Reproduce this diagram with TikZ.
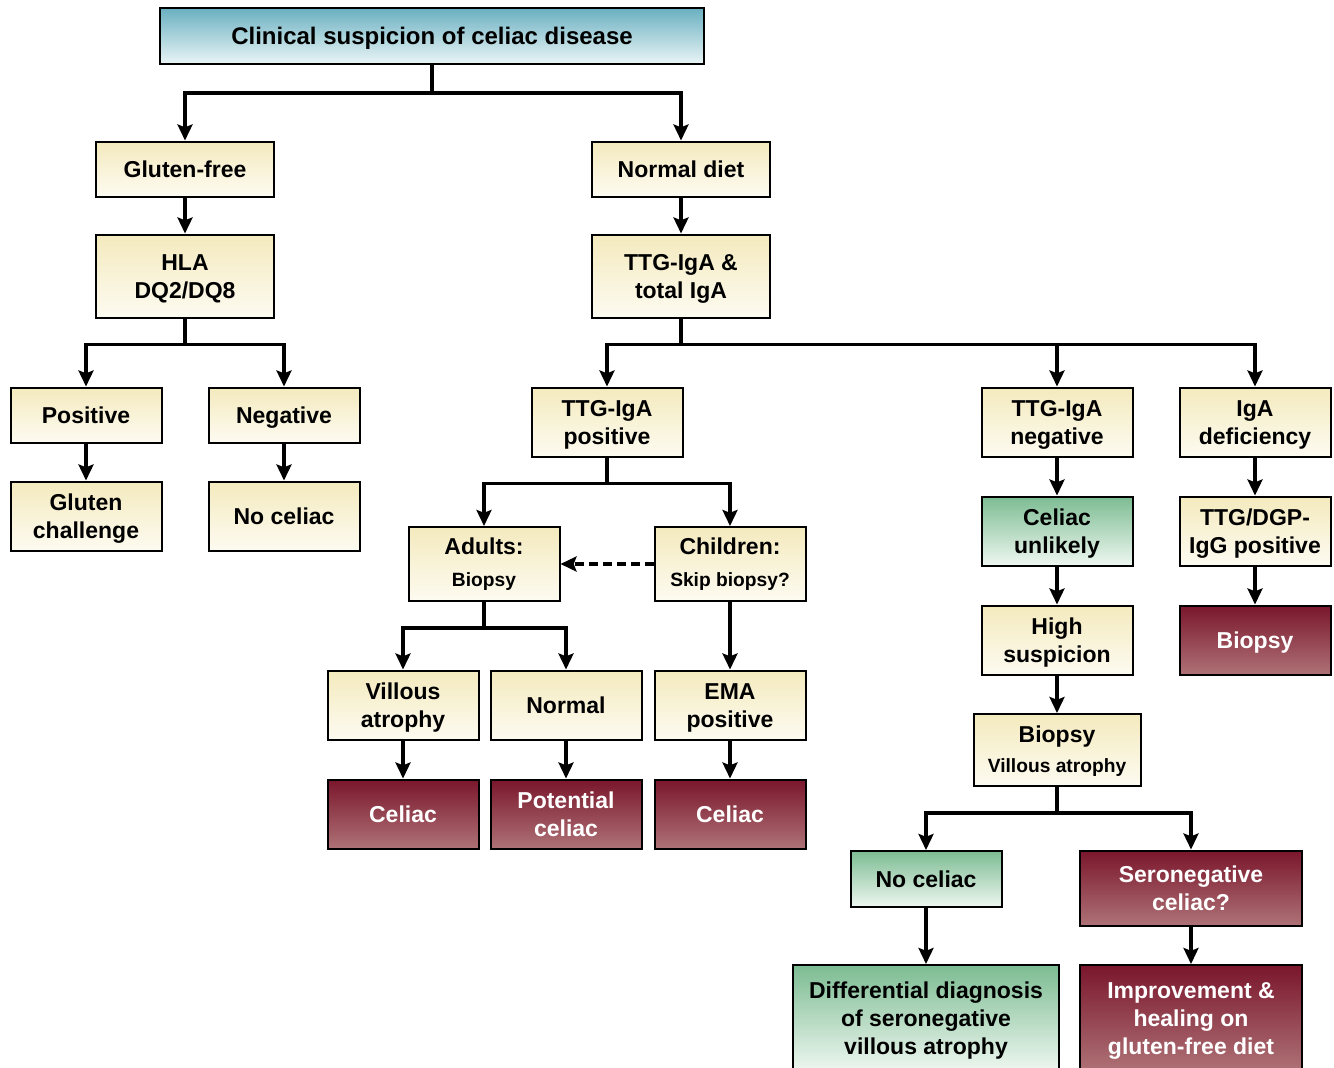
\documentclass[tikz,border=0pt]{standalone}
\usepackage{fontspec}
\setmainfont{Liberation Sans}
\usetikzlibrary{arrows.meta,positioning}
\definecolor{headtop}{RGB}{106,176,192}
\definecolor{headbot}{RGB}{234,245,247}
\definecolor{creamtop}{RGB}{244,234,190}
\definecolor{creambot}{RGB}{253,251,241}
\definecolor{greentop}{RGB}{124,188,146}
\definecolor{greenbot}{RGB}{238,247,240}
\definecolor{redtop}{RGB}{122,22,44}
\definecolor{redbot}{RGB}{174,114,118}
\newcommand{\subtxt}[1]{{\fontsize{9.6}{11.5}\selectfont #1}}
\tikzset{
    base/.style={rectangle,draw,line width=1pt,align=center,inner sep=0pt,
        font=\bfseries\fontsize{11.5}{13.8}\selectfont,
        execute at begin node=\rule{0pt}{12.6pt},execute at end node=\strut,
        minimum width=75.5pt,minimum height=34.5pt},
    two/.style={execute at begin node=\rule{0pt}{26.4pt}},
    three/.style={execute at begin node=\rule{0pt}{40.2pt}},
    cream/.style={base,top color=creamtop,bottom color=creambot},
    good/.style={base,top color=greentop,bottom color=greenbot},
    cel/.style={base,top color=redtop,bottom color=redbot,text=white},
    head/.style={base,top color=headtop,bottom color=headbot,
        font=\bfseries\fontsize{12}{14}\selectfont},
    flat/.style={minimum height=27.5pt},
    wide/.style={minimum width=89pt},
    pre/.style={-{Stealth[length=8pt,width=7.5pt,inset=1.4pt]},line width=1.6pt},
    maybe/.style={pre,dash pattern=on 4.5pt off 2.5pt}
}

\begin{document}
\begin{tikzpicture}[x=0.5pt,y=-0.5pt]
    \useasboundingbox (0,0) rectangle (1334,1067);
    \node[head,minimum width=272pt,minimum height=28pt] (top) at (432,36) {Clinical suspicion of celiac disease};

    \node[cream,flat,wide] (gf) at (185,169) {Gluten-free};
    \node[cream,flat,wide] (nd) at (681,169) {Normal diet};
    \node[cream,two,wide,minimum height=41.5pt] (hla) at (185,276) {HLA\\DQ2/DQ8};
    \node[cream,two,wide,minimum height=41.5pt] (ttg) at (681,276) {TTG-IgA \&\\total IgA};

    \node[cream,flat] (pos) at (86,415) {Positive};
    \node[cream,flat] (neg) at (284,415) {Negative};
    \node[cream,two] (chal) at (86,516) {Gluten\\challenge};
    \node[cream] (nocel) at (284,516) {No celiac};

    \node[cream,two] (tpos) at (607,422) {TTG-IgA\\positive};
    \node[cream,two] (tneg) at (1057,422) {TTG-IgA\\negative};
    \node[cream,two] (iga) at (1255,422) {IgA\\deficiency};

    \node[cream,two,minimum height=37pt] (adult) at (484,564) {Adults:\\[2pt]\subtxt{Biopsy}};
    \node[cream,two,minimum height=37pt] (child) at (730,564) {Children:\\[2pt]\subtxt{Skip biopsy?}};
    \node[cream,two] (villous) at (403,705) {Villous\\atrophy};
    \node[cream] (normal) at (566,705) {Normal};
    \node[cream,two] (ema) at (730,705) {EMA\\positive};
    \node[cel] (cel1) at (403,814) {Celiac};
    \node[cel,two] (potcel) at (566,814) {Potential\\celiac};
    \node[cel] (cel2) at (730,814) {Celiac};

    \node[good,two] (unlikely) at (1057,531) {Celiac\\unlikely};
    \node[cream,two] (dgp) at (1255,531) {TTG/DGP-\\IgG positive};
    \node[cream,two] (high) at (1057,640) {High\\suspicion};
    \node[cel] (biopsy) at (1255,640) {Biopsy};
    \node[cream,two,minimum width=83.5pt,minimum height=36pt] (bva) at (1057,750) {Biopsy\\[1pt]\subtxt{Villous atrophy}};

    \node[good,minimum height=28pt] (nocel2) at (926,879) {No celiac};
    \node[cel,two,minimum width=111pt,minimum height=37.5pt] (sero) at (1191,888) {Seronegative\\celiac?};
    \node[good,three,minimum width=133pt,minimum height=53pt,anchor=north] (diff) at (926,964) {Differential diagnosis\\of seronegative\\villous atrophy};
    \node[cel,three,minimum width=111pt,minimum height=53pt,anchor=north] (improve) at (1191,964) {Improvement \&\\healing on\\gluten-free diet};

    \draw[pre] (top.south) -- ++(0,28) -| (gf.north);
    \draw[pre] (top.south) -- ++(0,28) -| (nd.north);
    \draw[pre] (gf) -- (hla);
    \draw[pre] (nd) -- (ttg);
    \draw[pre] (hla.south) -- ++(0,26) -| (pos.north);
    \draw[pre] (hla.south) -- ++(0,26) -| (neg.north);
    \draw[pre] (pos) -- (chal);
    \draw[pre] (neg) -- (nocel);
    \draw[pre] (ttg.south) -- ++(0,26) -| (tpos.north);
    \draw[pre] (ttg.south) -- ++(0,26) -| (tneg.north);
    \draw[pre] (ttg.south) -- ++(0,26) -| (iga.north);
    \draw[pre] (tpos.south) -- ++(0,26) -| (adult.north);
    \draw[pre] (tpos.south) -- ++(0,26) -| (child.north);
    \draw[maybe] (child) -- (adult);
    \draw[pre] (adult.south) -- ++(0,26) -| (villous.north);
    \draw[pre] (adult.south) -- ++(0,26) -| (normal.north);
    \draw[pre] (child) -- (ema);
    \draw[pre] (villous) -- (cel1);
    \draw[pre] (normal) -- (potcel);
    \draw[pre] (ema) -- (cel2);
    \draw[pre] (tneg) -- (unlikely);
    \draw[pre] (unlikely) -- (high);
    \draw[pre] (high) -- (bva);
    \draw[pre] (iga) -- (dgp);
    \draw[pre] (dgp) -- (biopsy);
    \draw[pre] (bva.south) -- ++(0,26) -| (nocel2.north);
    \draw[pre] (bva.south) -- ++(0,26) -| (sero.north);
    \draw[pre] (nocel2) -- (diff);
    \draw[pre] (sero) -- (improve);
\end{tikzpicture}
\end{document}
